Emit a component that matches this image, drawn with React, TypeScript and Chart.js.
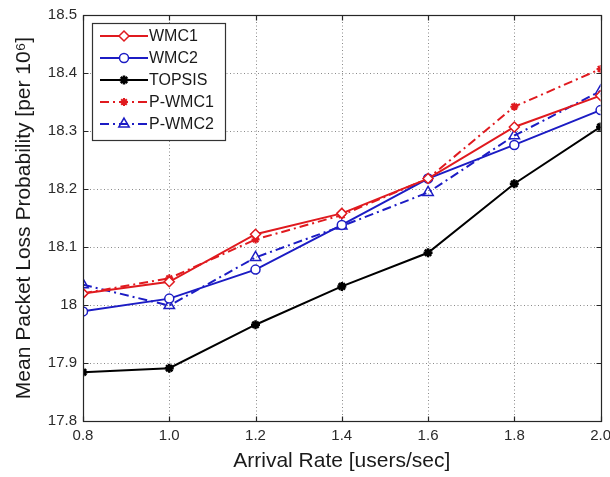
import React, { useEffect, useRef } from 'react';
import { Chart, registerables } from 'chart.js';
import { drawPoint } from 'chart.js/helpers';

Chart.register(...registerables);

const arrivalRates = [0.8, 1.0, 1.2, 1.4, 1.6, 1.8, 2.0];
const xTickLabels = ['0.8', '1.0', '1.2', '1.4', '1.6', '1.8', '2.0'];
const yTickValues = [17.8, 17.9, 18.0, 18.1, 18.2, 18.3, 18.4, 18.5];
const yTickLabels = ['17.8', '17.9', '18', '18.1', '18.2', '18.3', '18.4', '18.5'];

const wmc1 = [18.02, 18.04, 18.122, 18.158, 18.218, 18.307, 18.361];
const wmc2 = [17.989, 18.011, 18.061, 18.138, 18.218, 18.276, 18.336];
const topsis = [17.884, 17.891, 17.966, 18.032, 18.09, 18.209, 18.307];
const pWmc1 = [18.02, 18.046, 18.113, 18.155, 18.218, 18.342, 18.407];
const pWmc2 = [18.035, 17.999, 18.082, 18.136, 18.194, 18.292, 18.369];

const seriesNames = ['WMC1', 'WMC2', 'TOPSIS', 'P-WMC1', 'P-WMC2'];

const RED = '#e01a1f';
const BLUE = '#1c1cc4';
const BLACK = '#000000';
const FONT = '"Liberation Sans", Arial, sans-serif';

const toPoints = (ys: number[]) => ys.map((y, i) => ({ x: arrivalRates[i], y }));

const matlabPlugin = {
  id: 'matlabFrame',
  beforeDatasetsDraw(chart: any) {
    const { ctx, chartArea } = chart;
    const xs = chart.scales.x;
    const ys = chart.scales.y;
    ctx.save();
    ctx.strokeStyle = '#8a8a8a';
    ctx.lineWidth = 1;
    ctx.setLineDash([1, 2.5]);
    arrivalRates.forEach((v) => {
      const px = Math.round(xs.getPixelForValue(v)) + 0.5;
      if (px <= chartArea.left + 1 || px >= chartArea.right - 1) return;
      ctx.beginPath();
      ctx.moveTo(px, chartArea.top);
      ctx.lineTo(px, chartArea.bottom);
      ctx.stroke();
    });
    yTickValues.forEach((v) => {
      const py = Math.round(ys.getPixelForValue(v)) + 0.5;
      if (py <= chartArea.top + 1 || py >= chartArea.bottom - 1) return;
      ctx.beginPath();
      ctx.moveTo(chartArea.left, py);
      ctx.lineTo(chartArea.right, py);
      ctx.stroke();
    });
    ctx.restore();
  },
  afterDatasetsDraw(chart: any) {
    const { ctx, chartArea } = chart;
    const xs = chart.scales.x;
    const ys = chart.scales.y;
    const L = Math.round(chartArea.left) + 0.5;
    const R = Math.round(chartArea.right) + 0.5;
    const T = Math.round(chartArea.top) + 0.5;
    const B = Math.round(chartArea.bottom) + 0.5;
    ctx.save();
    ctx.setLineDash([]);
    ctx.strokeStyle = '#262626';
    ctx.lineWidth = 1.2;
    ctx.strokeRect(L, T, R - L, B - T);
    const tl = 5;
    ctx.beginPath();
    arrivalRates.forEach((v) => {
      const px = Math.round(xs.getPixelForValue(v)) + 0.5;
      ctx.moveTo(px, B); ctx.lineTo(px, B - tl);
      ctx.moveTo(px, T); ctx.lineTo(px, T + tl);
    });
    yTickValues.forEach((v) => {
      const py = Math.round(ys.getPixelForValue(v)) + 0.5;
      ctx.moveTo(L, py); ctx.lineTo(L + tl, py);
      ctx.moveTo(R, py); ctx.lineTo(R - tl, py);
    });
    ctx.stroke();

    // Legend
    const bx = 92.5, by = 23.5, bw = 133, bh = 117;
    ctx.fillStyle = '#ffffff';
    ctx.fillRect(bx, by, bw, bh);
    ctx.strokeStyle = '#333333';
    ctx.lineWidth = 1.2;
    ctx.strokeRect(bx, by, bw, bh);
    ctx.font = '16px ' + FONT;
    ctx.textBaseline = 'middle';
    ctx.textAlign = 'left';
    chart.data.datasets.forEach((ds: any, i: number) => {
      const y = 36 + i * 22;
      ctx.save();
      ctx.strokeStyle = ds.borderColor;
      ctx.lineWidth = ds.borderWidth;
      ctx.setLineDash(ds.borderDash || []);
      ctx.beginPath();
      ctx.moveTo(100, y);
      ctx.lineTo(148, y);
      ctx.stroke();
      ctx.setLineDash([]);
      ctx.strokeStyle = ds.pointBorderColor;
      ctx.fillStyle = ds.pointBackgroundColor;
      ctx.lineWidth = ds.pointBorderWidth;
      drawPoint(ctx, { pointStyle: ds.pointStyle, rotation: 0, radius: ds.pointRadius, borderWidth: ds.pointBorderWidth }, 124, y);
      ctx.restore();
      ctx.fillStyle = '#1a1a1a';
      ctx.fillText(ds.label, 149, y + 1);
    });
    ctx.restore();
  },
};

export default function App() {
  const ref = useRef<HTMLCanvasElement | null>(null);
  useEffect(() => {
    if (!ref.current) return;
    const chart = new Chart(ref.current, {
      type: 'line',
      data: {
        datasets: [
          {
            label: seriesNames[0], data: toPoints(wmc1), borderColor: RED, borderWidth: 2,
            pointStyle: 'rectRot', pointRadius: 5, pointBorderColor: RED, pointBackgroundColor: '#ffffff', pointBorderWidth: 1.5,
          },
          {
            label: seriesNames[1], data: toPoints(wmc2), borderColor: BLUE, borderWidth: 2,
            pointStyle: 'circle', pointRadius: 4.5, pointBorderColor: BLUE, pointBackgroundColor: '#ffffff', pointBorderWidth: 1.5,
          },
          {
            label: seriesNames[2], data: toPoints(topsis), borderColor: BLACK, borderWidth: 2,
            pointStyle: 'star', pointRadius: 4.5, pointBorderColor: BLACK, pointBackgroundColor: BLACK, pointBorderWidth: 2.5,
          },
          {
            label: seriesNames[3], data: toPoints(pWmc1), borderColor: RED, borderWidth: 2, borderDash: [9, 4, 2, 4],
            pointStyle: 'star', pointRadius: 4, pointBorderColor: RED, pointBackgroundColor: RED, pointBorderWidth: 2,
          },
          {
            label: seriesNames[4], data: toPoints(pWmc2), borderColor: BLUE, borderWidth: 2, borderDash: [9, 4, 2, 4],
            pointStyle: 'triangle', pointRadius: 6, pointBorderColor: BLUE, pointBackgroundColor: 'rgba(255,255,255,0)', pointBorderWidth: 1.5,
          },
        ] as any,
      },
      options: {
        responsive: false,
        animation: false,
        devicePixelRatio: 1,
        layout: { padding: { top: 14, right: 0, left: 0, bottom: 0 } },
        plugins: { legend: { display: false }, tooltip: { enabled: false } },
        elements: { line: { tension: 0 } },
        scales: {
          x: {
            type: 'linear', min: 0.8, max: 2.0,
            afterBuildTicks: (s: any) => { s.ticks = arrivalRates.map((v) => ({ value: v })); },
            afterFit: (s: any) => { s.height = 56; },
            ticks: {
              padding: 6, color: '#2a2a2a', font: { size: 15, family: FONT },
              callback: (_v: any, i: number) => xTickLabels[i],
              maxRotation: 0, autoSkip: false,
            },
            grid: { display: false, drawTicks: false },
            border: { display: false },
            title: { display: true, text: 'Arrival Rate [users/sec]', color: '#1a1a1a', font: { size: 21, family: FONT }, padding: { top: 2, bottom: 3 } },
          },
          y: {
            type: 'linear', min: 17.8, max: 18.5,
            afterBuildTicks: (s: any) => { s.ticks = yTickValues.map((v) => ({ value: v })); },
            afterFit: (s: any) => { s.width = 83; },
            ticks: {
              padding: 6, color: '#2a2a2a', font: { size: 15, family: FONT },
              callback: (_v: any, i: number) => yTickLabels[i],
              autoSkip: false,
            },
            grid: { display: false, drawTicks: false },
            border: { display: false },
            title: { display: true, text: 'Mean Packet Loss Probability [per 10\u2076]', color: '#1a1a1a', font: { size: 21, family: FONT }, padding: { top: 12, bottom: 3 } },
          },
        },
      } as any,
      plugins: [matlabPlugin],
    });
    return () => chart.destroy();
  }, []);
  return (
    <div style={{ position: 'absolute', left: 0, top: 0, width: 610, height: 477, overflow: 'hidden', background: '#fff' }}>
      <canvas ref={ref} width={617} height={477} />
    </div>
  );
}
